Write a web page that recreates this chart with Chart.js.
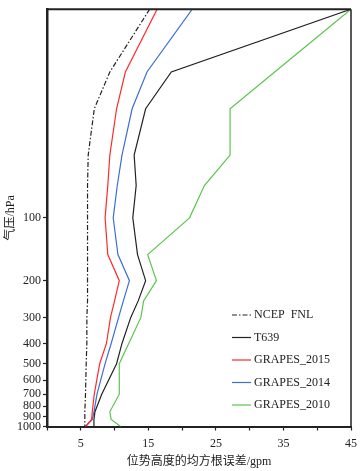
<!DOCTYPE html>
<html>
<head>
<meta charset="utf-8">
<script src="https://cdn.jsdelivr.net/npm/chart.js@4"></script>
<style>body{margin:0;background:#fff}</style>
</head>
<body>
<canvas id="myChart" width="363" height="471"></canvas>
<script>
// pressure levels (hPa) and RMSE of geopotential height (gpm)
var levels = [10, 20, 30, 50, 70, 100, 150, 200, 250, 300, 400, 500, 700, 850, 925, 1000];
var ncep   = [15.2, 9.3, 7.0, 6.1, 6.0, 6.0, 6.0, 6.0, 6.0, 5.9, 5.9, 5.8, 5.7, 5.6, 5.6, 5.6];
var t639   = [45, 18.4, 14.6, 12.9, 13.2, 12.7, 13.4, 14.6, 13.5, 12.4, 11.1, 10.3, 8.1, 7.1, 6.95, 6.95];
var g2015  = [16.3, 11.6, 10.3, 9.3, 9.0, 8.6, 9.0, 10.7, 10.0, 9.4, 8.8, 7.8, 7.0, 6.7, 6.6, 5.7];
var g2014  = [21.5, 14.8, 12.6, 11.1, 10.4, 9.8, 10.5, 12.2, 11.3, 10.6, 9.5, 8.6, 7.4, 6.95, 6.7, 5.7];
var g2010  = [45, 33.7, 27.1, 27.1, 23.3, 21.1, 14.9, 16.2, 14.3, 13.9, 12.1, 10.7, 10.7, 9.3, 9.5, 10.9];

var yTicks = [100, 200, 300, 400, 500, 600, 700, 800, 900, 1000];
var xLabels = [5, 15, 25, 35, 45];

var serif = "'Liberation Serif', 'Noto Sans CJK SC', serif";

function pts(arr) {
  return levels.map(function (p, i) { return {x: arr[i], y: p}; });
}

var series = [
  {label: 'NCEP  FNL', data: ncep, color: '#222222', dash: [5, 2, 1.5, 2]},
  {label: 'T639', data: t639, color: '#222222', dash: []},
  {label: 'GRAPES_2015', data: g2015, color: '#ff2a2a', dash: []},
  {label: 'GRAPES_2014', data: g2014, color: '#3b6fd0', dash: []},
  {label: 'GRAPES_2010', data: g2010, color: '#5cc44c', dash: []}
];

// frame on top/right + legend inside the plot
var framePlugin = {
  id: 'frame',
  afterDraw: function (chart) {
    var c = chart.ctx, a = chart.chartArea;
    c.save();
    c.strokeStyle = '#222';
    c.lineWidth = 2;
    c.beginPath();
    c.moveTo(a.left, a.top);
    c.lineTo(a.right, a.top);
    c.stroke();
    c.lineWidth = 1.5;
    c.beginPath();
    c.moveTo(a.right, a.top);
    c.lineTo(a.right, a.bottom);
    c.stroke();

    c.font = '12px ' + serif;
    c.textBaseline = 'middle';
    c.fillStyle = '#222';
    series.forEach(function (s, i) {
      var y = a.bottom - 111.5 + i * 22.5;
      c.strokeStyle = s.color;
      c.lineWidth = 1.2;
      c.setLineDash(s.dash);
      c.beginPath();
      c.moveTo(a.left + 185, y);
      c.lineTo(a.left + 204, y);
      c.stroke();
      c.setLineDash([]);
      c.fillText(s.label, a.left + 207, y);
    });
    c.restore();
  }
};

var ctx = document.getElementById('myChart').getContext('2d');
var myChart = new Chart(ctx, {
  type: 'scatter',
  data: {
    datasets: series.map(function (s) {
      return {
        label: s.label,
        data: pts(s.data),
        showLine: true,
        borderColor: s.color,
        backgroundColor: s.color,
        borderWidth: 1.2,
        borderDash: s.dash,
        pointRadius: 0,
        tension: 0
      };
    })
  },
  options: {
    responsive: false,
    animation: false,
    layout: {padding: {top: 5, right: 10, left: 0, bottom: 0}},
    plugins: {
      legend: {display: false},
      tooltip: {enabled: false}
    },
    scales: {
      x: {
        type: 'linear',
        min: 0,
        max: 45,
        afterFit: function (scale) { scale.height = 44.5; },
        afterBuildTicks: function (scale) {
          var t = [];
          for (var v = 0; v <= 45; v += 5) t.push({value: v});
          scale.ticks = t;
        },
        ticks: {
          autoSkip: false,
          maxRotation: 0,
          padding: 6,
          color: '#222',
          font: {family: serif, size: 12},
          callback: function (v) { return xLabels.indexOf(v) >= 0 ? String(v) : ''; }
        },
        grid: {drawOnChartArea: false, drawTicks: true, tickLength: 4, tickColor: '#222', tickWidth: 1.2},
        border: {display: true, color: '#222', width: 2},
        title: {
          display: true,
          text: '位势高度的均方根误差/gpm',
          color: '#222',
          font: {family: serif, size: 12},
          padding: {top: 0, bottom: 2}
        }
      },
      y: {
        type: 'logarithmic',
        reverse: true,
        min: 10,
        max: 1000,
        afterFit: function (scale) { scale.width = 47; },
        afterBuildTicks: function (scale) {
          scale.ticks = yTicks.map(function (v) { return {value: v}; });
        },
        ticks: {
          autoSkip: false,
          padding: 2,
          color: '#222',
          font: {family: serif, size: 12},
          callback: function (v) { return String(v); }
        },
        grid: {drawOnChartArea: false, drawTicks: true, tickLength: 4, tickColor: '#222', tickWidth: 1.2},
        border: {display: true, color: '#222', width: 2.5},
        title: {
          display: true,
          text: '气压/hPa',
          color: '#222',
          font: {family: serif, size: 12},
          padding: {top: 4, bottom: 0}
        }
      }
    }
  },
  plugins: [framePlugin]
});
</script>
</body>
</html>
